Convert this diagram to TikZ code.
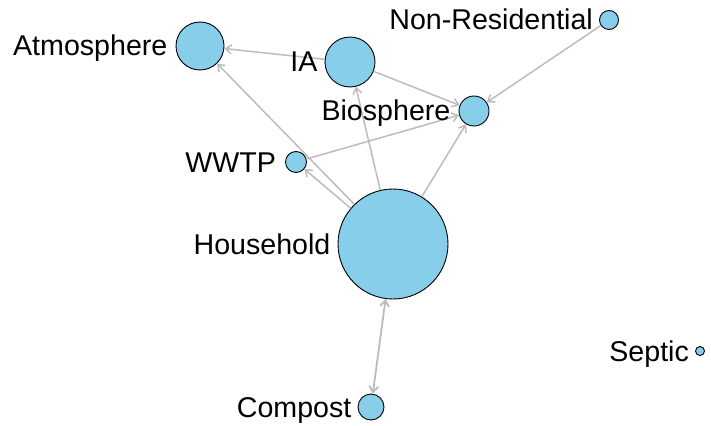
\documentclass[tikz,border=0pt]{standalone}
\usepackage{fontspec}
\setmainfont{Liberation Sans}
\usetikzlibrary{arrows.meta}
\definecolor{vfill}{RGB}{135,206,235}
\definecolor{edgegray}{RGB}{188,188,188}
\begin{document}
\begin{tikzpicture}[x=1pt,y=-1pt,
  vert/.style={circle,draw=black,line width=0.9pt,fill=vfill,inner sep=0pt,minimum size=#1},
  lab/.style={anchor=base east,inner sep=0pt,font=\fontsize{28.6}{31}\selectfont},
  link/.style={draw=edgegray,line width=1.5pt,-{Straight Barb[length=6pt,width=9pt]}},
  both/.style={draw=edgegray,line width=1.8pt,{Straight Barb[length=6pt,width=9pt]}-{Straight Barb[length=6pt,width=9pt]}}]
\useasboundingbox (0,0) rectangle (711,425);

% vertices
\node[vert=48pt]  (atm)     at (200,46)  {};
\node[vert=50pt]  (ia)      at (350,62)  {};
\node[vert=19pt]  (nonres)  at (609,20)  {};
\node[vert=30pt]  (bio)     at (474,111) {};
\node[vert=21pt]  (wwtp)    at (296,162) {};
\node[vert=110pt] (house)   at (393,244) {};
\node[vert=26pt]  (compost) at (371,407) {};
\node[vert=9pt]   (septic)  at (700,351) {};

% edges
\draw[link] (ia) -- (atm);
\draw[link] (house) -- (atm);
\draw[link] (house) -- (ia);
\draw[link] (house) -- (wwtp);
\draw[link] (house) -- (bio);
\draw[link] (ia) -- (bio);
\draw[link] (wwtp) -- (bio);
\draw[link] (nonres) -- (bio);
\draw[both] (house) -- (compost);

% labels
\node[lab] (latm)     at ([xshift=-8pt,yshift=-10pt]atm.west)     {Atmosphere};
\node[lab] (lia)      at ([xshift=-7pt,yshift=-10pt]ia.west)      {IA};
\node[lab] (lnonres)  at ([xshift=-6pt,yshift=-10pt]nonres.west)  {Non-Residential};
\node[lab] (lbio)     at ([xshift=-8pt,yshift=-10pt]bio.west)     {Biosphere};
\node[lab] (lwwtp)    at ([xshift=-9pt,yshift=-10pt]wwtp.west)    {WWTP};
\node[lab] (lhouse)   at ([xshift=-7pt,yshift=-10pt]house.west)   {Household};
\node[lab] (lcompost) at ([xshift=-6pt,yshift=-10pt]compost.west) {Compost};
\node[lab] (lseptic)  at ([xshift=-6pt,yshift=-10pt]septic.west)  {Septic};
\end{tikzpicture}
\end{document}
